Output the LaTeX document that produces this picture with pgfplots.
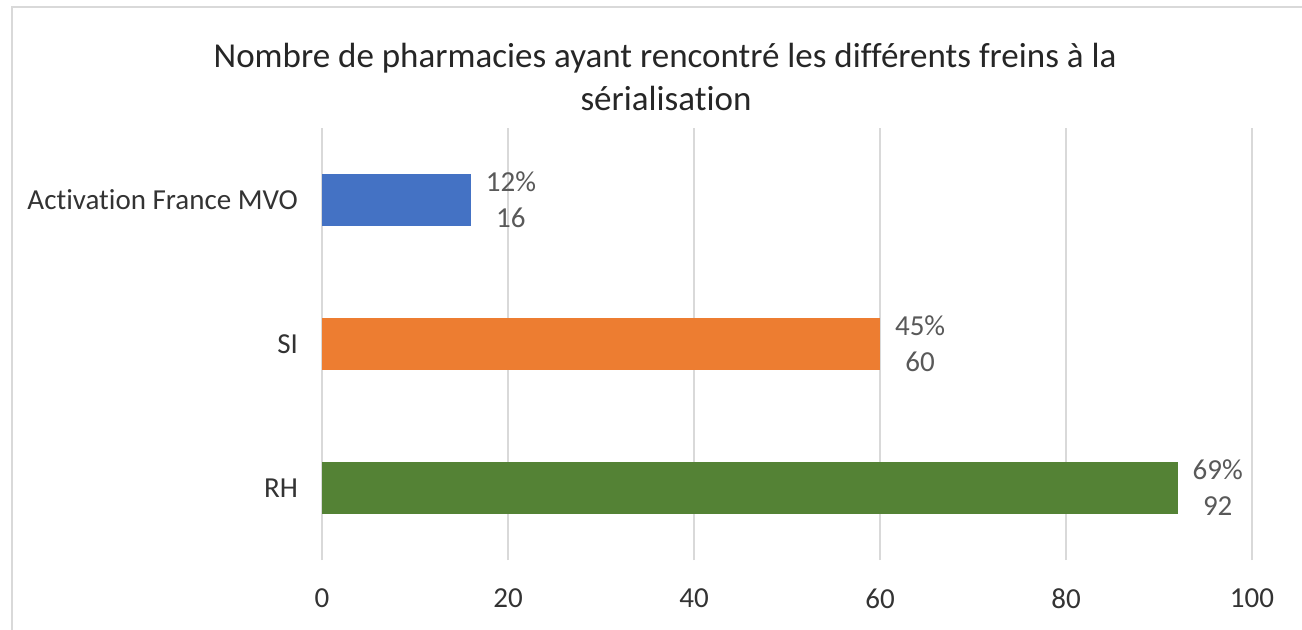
\documentclass[border=0pt]{standalone}
\usepackage{fontspec}
\setmainfont{Carlito}[Ligatures=NoCommon]
\usepackage{pgfplots}
\pgfplotsset{compat=1.18}
\definecolor{cblue}{HTML}{4472C4}
\definecolor{corange}{HTML}{ED7D31}
\definecolor{cgreen}{HTML}{548235}
\definecolor{gridgray}{HTML}{D9D9D9}
\definecolor{labgray}{HTML}{595959}
\definecolor{tickc}{HTML}{333333}
\definecolor{titlec}{HTML}{262626}
\begin{document}
\begin{tikzpicture}
\useasboundingbox (0,0) rectangle (651pt,314.5pt);
\draw[color=gridgray, line width=1.2pt] (6pt,-2pt) -- (6pt,311pt) -- (660pt,311pt);
\node[anchor=base, inner sep=0pt, font=\fontsize{17.5}{21}\selectfont, text=titlec] at (332.5pt,281pt) {Nombre de pharmacies ayant rencontré les différents freins à la};
\node[anchor=base, inner sep=0pt, font=\fontsize{17.5}{21}\selectfont, text=titlec] at (333pt,259.5pt) {sérialisation};
\begin{axis}[
  at={(161pt,34.5pt)}, anchor=south west,
  scale only axis, width=465pt, height=216pt,
  xmin=0, xmax=100, ymin=-0.5, ymax=2.5,
  xbar, bar width=26pt,
  every axis plot/.append style={bar shift=0pt, draw=none},
  /pgf/number format/assume math mode=true,
  xtick={0,20,40,60,80,100},
  ytick={0,1,2}, yticklabels={RH,SI,Activation France MVO},
  xmajorgrids, major grid style={gridgray, line width=1pt},
  axis line style={draw=none},
  major tick length=0pt, tick style={draw=none},
  xticklabel style={font=\fontsize{14.5}{17}\selectfont, text=tickc, yshift=-11pt},
  yticklabel style={font=\fontsize{14.5}{17}\selectfont, text=tickc, xshift=-8.5pt},
  point meta=explicit symbolic,
  nodes near coords={\pgfplotspointmeta\%\\\pgfmathprintnumber[assume math mode=true]{\pgfkeysvalueof{/data point/x}}},
  every node near coord/.append style={anchor=west, align=center, font=\fontsize{14.5}{18}\selectfont, text=labgray, xshift=4pt},
  clip=false,
]
\addplot[fill=cgreen] coordinates {(92,0) [69]};
\addplot[fill=corange] coordinates {(60,1) [45]};
\addplot[fill=cblue] coordinates {(16,2) [12]};
\end{axis}
\end{tikzpicture}
\end{document}
